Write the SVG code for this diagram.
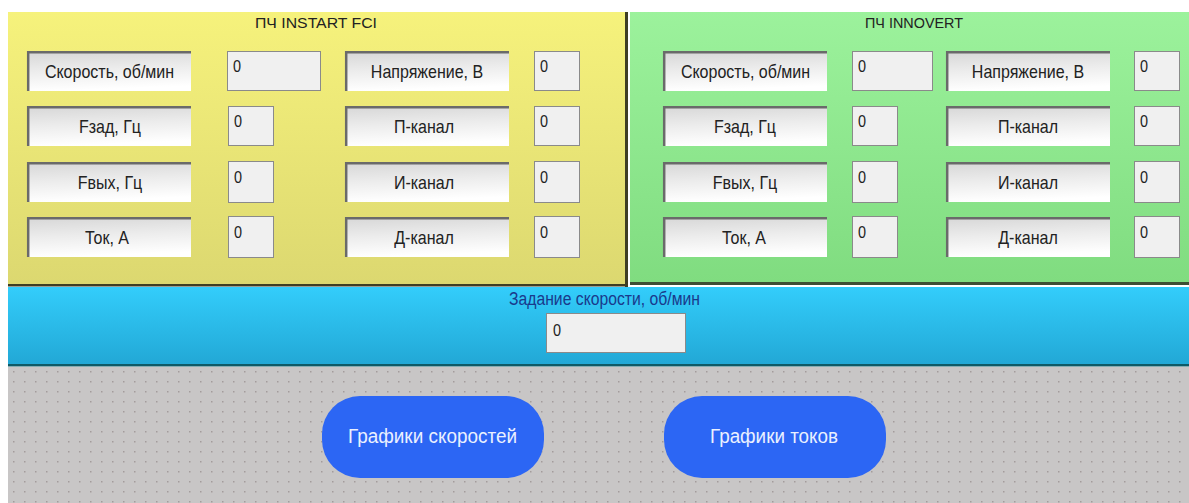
<svg xmlns="http://www.w3.org/2000/svg" width="1189" height="503" viewBox="0 0 1189 503">
<defs>
<linearGradient id="gY" x1="0" y1="0" x2="0" y2="1"><stop offset="0" stop-color="#f6f27c"/><stop offset="1" stop-color="#dcd870"/></linearGradient>
<linearGradient id="gG" x1="0" y1="0" x2="0" y2="1"><stop offset="0" stop-color="#9cf29c"/><stop offset="1" stop-color="#80dc80"/></linearGradient>
<linearGradient id="gB" x1="0" y1="0" x2="0" y2="1"><stop offset="0" stop-color="#33cdfb"/><stop offset="1" stop-color="#22a8d6"/></linearGradient>
<linearGradient id="gL" x1="0" y1="0" x2="0.15" y2="1"><stop offset="0" stop-color="#d6d6d6"/><stop offset="0.5" stop-color="#ececec"/><stop offset="1" stop-color="#ffffff"/></linearGradient>
<pattern id="dots" x="8" y="367" width="11" height="10" patternUnits="userSpaceOnUse"><rect x="5" y="4" width="1.5" height="1.5" fill="#a39c9c"/></pattern>
</defs>
<style>
.lbl{fill:url(#gL)}
.edge{fill:none;stroke:#6a6a6a;stroke-width:2.5}
.val{fill:#f0f0f0;stroke:#8a8a8a;stroke-width:1}
.t{font-family:"Liberation Sans",Arial,sans-serif;font-size:18px;fill:#222;text-anchor:middle}
.v{font-family:"Liberation Sans",Arial,sans-serif;font-size:17px;fill:#222}
.ttl{font-family:"Liberation Sans",Arial,sans-serif;font-size:15.5px;fill:#222;text-anchor:middle}
.btn{fill:#2c66f4}
.bt{font-family:"Liberation Sans",Arial,sans-serif;font-size:20px;fill:#eaf0ff;text-anchor:middle}
</style>
<rect width="1189" height="503" fill="#ffffff"/>
<g id="panel-instart">
<rect x="8" y="12" width="617" height="272" fill="url(#gY)"/>
<rect x="625" y="12" width="3" height="275" fill="#3e3e24"/>
<rect x="8" y="284" width="620" height="2.5" fill="#3e3e24"/>
<text class="ttl" x="316" y="28" textLength="122" lengthAdjust="spacingAndGlyphs">ПЧ  INSTART FCI</text>
</g>
<g id="panel-innovert">
<rect x="630" y="12" width="559" height="270" fill="url(#gG)"/>
<rect x="630" y="282" width="559" height="3" fill="#3e4e34"/>
<text class="ttl" x="914" y="28" textLength="98" lengthAdjust="spacingAndGlyphs">ПЧ INNOVERT</text>
</g>
<g id="panel-setpoint">
<rect x="8" y="287" width="1181" height="77" fill="url(#gB)"/>
<rect x="8" y="364" width="1181" height="2.5" fill="#0f5a66"/>
<text class="t" x="604.5" y="305" textLength="191" lengthAdjust="spacingAndGlyphs" style="fill:#1a3a8c">Задание скорости, об/мин</text>
<rect class="val" x="546.5" y="313.5" width="139" height="39"/>
<text class="v" transform="translate(553 336) scale(0.85 1)">0</text>
</g>
<g id="panel-buttons">
<rect x="8" y="367" width="1181" height="136" fill="#c8c6c6"/>
<rect x="8" y="367" width="1181" height="136" fill="url(#dots)"/>
</g>
<g id="instart-speed"><rect class="lbl" x="27" y="51" width="164" height="40"/><path class="edge" d="M28.2 91V52.2H191"/><text class="t" transform="translate(109.5 78) scale(0.89 1)">Скорость, об/мин</text><rect class="val" x="227.5" y="51.5" width="93" height="39"/><text class="v" transform="translate(233 72) scale(0.85 1)">0</text></g>
<g id="instart-fset"><rect class="lbl" x="27" y="106" width="164" height="40"/><path class="edge" d="M28.2 146V107.2H191"/><text class="t" transform="translate(110 133) scale(0.89 1)">Fзад, Гц</text><rect class="val" x="228.5" y="106.5" width="45" height="39"/><text class="v" transform="translate(234 127) scale(0.85 1)">0</text></g>
<g id="instart-fout"><rect class="lbl" x="27" y="162" width="164" height="40"/><path class="edge" d="M28.2 202V163.2H191"/><text class="t" transform="translate(110 189) scale(0.89 1)">Fвых, Гц</text><rect class="val" x="228.5" y="161.5" width="45" height="41"/><text class="v" transform="translate(234 183) scale(0.85 1)">0</text></g>
<g id="instart-current"><rect class="lbl" x="27" y="217" width="164" height="40"/><path class="edge" d="M28.2 257V218.2H191"/><text class="t" transform="translate(107 244) scale(0.89 1)">Ток, А</text><rect class="val" x="228.5" y="216.5" width="45" height="41"/><text class="v" transform="translate(234 238) scale(0.85 1)">0</text></g>
<g id="instart-voltage"><rect class="lbl" x="345" y="51" width="164" height="40"/><path class="edge" d="M346.2 91V52.2H509"/><text class="t" transform="translate(427 78) scale(0.89 1)">Напряжение, В</text><rect class="val" x="534.5" y="51.5" width="45" height="39"/><text class="v" transform="translate(540 72) scale(0.85 1)">0</text></g>
<g id="instart-p"><rect class="lbl" x="345" y="106" width="164" height="40"/><path class="edge" d="M346.2 146V107.2H509"/><text class="t" transform="translate(424 133) scale(0.89 1)">П-канал</text><rect class="val" x="534.5" y="106.5" width="45" height="39"/><text class="v" transform="translate(540 127) scale(0.85 1)">0</text></g>
<g id="instart-i"><rect class="lbl" x="345" y="162" width="164" height="40"/><path class="edge" d="M346.2 202V163.2H509"/><text class="t" transform="translate(424 189) scale(0.89 1)">И-канал</text><rect class="val" x="534.5" y="161.5" width="45" height="41"/><text class="v" transform="translate(540 183) scale(0.85 1)">0</text></g>
<g id="instart-d"><rect class="lbl" x="345" y="217" width="164" height="40"/><path class="edge" d="M346.2 257V218.2H509"/><text class="t" transform="translate(424 244) scale(0.89 1)">Д-канал</text><rect class="val" x="534.5" y="216.5" width="45" height="41"/><text class="v" transform="translate(540 238) scale(0.85 1)">0</text></g>
<g id="innovert-speed"><rect class="lbl" x="663" y="51" width="164" height="40"/><path class="edge" d="M664.2 91V52.2H827"/><text class="t" transform="translate(745.5 78) scale(0.89 1)">Скорость, об/мин</text><rect class="val" x="852.5" y="51.5" width="80" height="39"/><text class="v" transform="translate(858 72) scale(0.85 1)">0</text></g>
<g id="innovert-fset"><rect class="lbl" x="663" y="106" width="164" height="40"/><path class="edge" d="M664.2 146V107.2H827"/><text class="t" transform="translate(745 133) scale(0.89 1)">Fзад, Гц</text><rect class="val" x="852.5" y="106.5" width="45" height="39"/><text class="v" transform="translate(858 127) scale(0.85 1)">0</text></g>
<g id="innovert-fout"><rect class="lbl" x="663" y="162" width="164" height="40"/><path class="edge" d="M664.2 202V163.2H827"/><text class="t" transform="translate(745 189) scale(0.89 1)">Fвых, Гц</text><rect class="val" x="852.5" y="161.5" width="45" height="41"/><text class="v" transform="translate(858 183) scale(0.85 1)">0</text></g>
<g id="innovert-current"><rect class="lbl" x="663" y="217" width="164" height="40"/><path class="edge" d="M664.2 257V218.2H827"/><text class="t" transform="translate(744 244) scale(0.89 1)">Ток, А</text><rect class="val" x="852.5" y="216.5" width="45" height="41"/><text class="v" transform="translate(858 238) scale(0.85 1)">0</text></g>
<g id="innovert-voltage"><rect class="lbl" x="946" y="51" width="164" height="40"/><path class="edge" d="M947.2 91V52.2H1110"/><text class="t" transform="translate(1028 78) scale(0.89 1)">Напряжение, В</text><rect class="val" x="1134.5" y="51.5" width="45" height="39"/><text class="v" transform="translate(1140 72) scale(0.85 1)">0</text></g>
<g id="innovert-p"><rect class="lbl" x="946" y="106" width="164" height="40"/><path class="edge" d="M947.2 146V107.2H1110"/><text class="t" transform="translate(1028 133) scale(0.89 1)">П-канал</text><rect class="val" x="1134.5" y="106.5" width="45" height="39"/><text class="v" transform="translate(1140 127) scale(0.85 1)">0</text></g>
<g id="innovert-i"><rect class="lbl" x="946" y="162" width="164" height="40"/><path class="edge" d="M947.2 202V163.2H1110"/><text class="t" transform="translate(1028 189) scale(0.89 1)">И-канал</text><rect class="val" x="1134.5" y="161.5" width="45" height="41"/><text class="v" transform="translate(1140 183) scale(0.85 1)">0</text></g>
<g id="innovert-d"><rect class="lbl" x="946" y="217" width="164" height="40"/><path class="edge" d="M947.2 257V218.2H1110"/><text class="t" transform="translate(1028 244) scale(0.89 1)">Д-канал</text><rect class="val" x="1134.5" y="216.5" width="45" height="41"/><text class="v" transform="translate(1140 238) scale(0.85 1)">0</text></g>
<g id="btn-speed-charts"><rect class="btn" x="322" y="396" width="222" height="82" rx="38"/><text class="bt" x="432.5" y="443" textLength="169" lengthAdjust="spacingAndGlyphs">Графики скоростей</text></g>
<g id="btn-current-charts"><rect class="btn" x="664" y="396" width="222" height="82" rx="38"/><text class="bt" x="774" y="443" textLength="128" lengthAdjust="spacingAndGlyphs">Графики токов</text></g>
<g id="connectors"/>
</svg>
